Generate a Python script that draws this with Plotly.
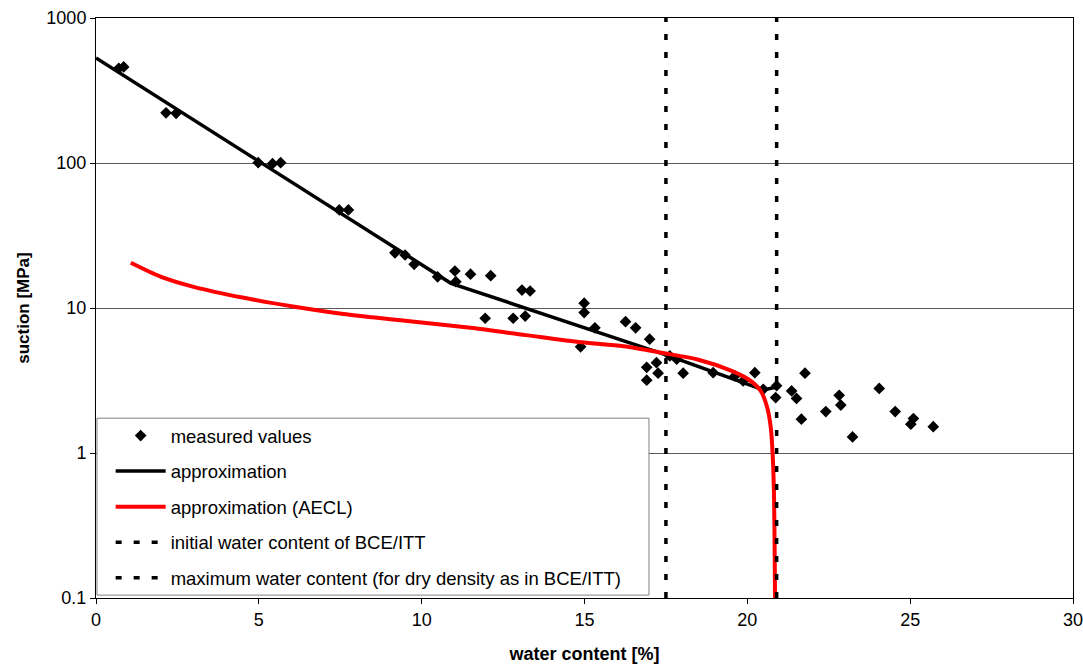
import plotly.graph_objects as go

# measured suction vs. water content
measured_w = [0.7, 0.85, 2.15, 2.46, 4.98, 5.42, 5.67, 7.47, 7.75, 9.18, 9.49, 9.77,
              10.49, 11.02, 11.05, 11.5, 12.12, 11.95, 12.81, 13.08, 13.33, 13.18,
              14.99, 14.99, 15.32, 14.88, 16.26, 16.57, 17.0, 16.91, 17.21, 17.26,
              16.91, 17.62, 17.83, 18.03, 18.95, 19.62, 19.87, 20.23, 20.49, 20.9,
              20.87, 21.36, 21.51, 21.66, 21.77, 22.41, 22.82, 22.87, 23.23, 24.05,
              24.54, 25.1, 25.02, 25.71]
measured_s = [450, 460, 222, 220, 100.5, 99, 100.5, 47.5, 47.5, 24, 23.2, 20,
              16.4, 18, 15.2, 17.1, 16.7, 8.5, 8.5, 13.3, 13.1, 8.8,
              10.8, 9.3, 7.3, 5.4, 8.05, 7.3, 6.1, 3.9, 4.2, 3.55,
              3.18, 4.67, 4.43, 3.55, 3.58, 3.4, 3.14, 3.58, 2.75, 2.91,
              2.41, 2.68, 2.38, 1.71, 3.55, 1.93, 2.5, 2.14, 1.29, 2.79,
              1.93, 1.73, 1.58, 1.52]

# piecewise approximation
approx_w = [0.0, 10.9, 17.5, 20.5, 20.9]
approx_s = [530, 14.8, 4.75, 2.72, 2.85]

# AECL approximation
aecl_w = [1.07, 2.0, 3.0, 4.5, 6.1, 7.6, 9.2, 11.5, 13.2, 14.9, 16.2, 17.4,
          18.5, 19.5, 20.05, 20.4, 20.6, 20.72, 20.78, 20.82, 20.84, 20.85]
aecl_s = [20.5, 16.4, 14.0, 11.8, 10.2, 9.1, 8.3, 7.3, 6.5, 5.8, 5.45, 4.9,
          4.4, 3.7, 3.2, 2.7, 2.1, 1.5, 0.95, 0.5, 0.2, 0.1]

w_initial = 17.5
w_max = 20.9
s_range = [0.1, 1000]

y_ticks = [0.1, 1, 10, 100, 1000]
y_ticktext = ["0.1", "1", "10", "100", "1000"]
x_ticks = [0, 5, 10, 15, 20, 25, 30]

FONT = "Liberation Sans, Arial, sans-serif"
DASH = "6px,12px"

fig = go.Figure()

fig.add_trace(go.Scatter(
    x=measured_w, y=measured_s, mode="markers", name="measured values",
    marker=dict(symbol="diamond", size=9, color="black"),
    legendgroup="a"))
fig.add_trace(go.Scatter(
    x=approx_w, y=approx_s, mode="lines", name="approximation",
    line=dict(color="black", width=3.5), legendgroup="b"))
fig.add_trace(go.Scatter(
    x=aecl_w, y=aecl_s, mode="lines", name="approximation (AECL)",
    line=dict(color="#ff0000", width=4, shape="spline", smoothing=0.8),
    legendgroup="c"))
fig.add_trace(go.Scatter(
    x=[w_initial, w_initial], y=s_range, mode="lines",
    name="initial water content of BCE/ITT",
    line=dict(color="black", width=3.5, dash=DASH), legendgroup="d"))
fig.add_trace(go.Scatter(
    x=[w_max, w_max], y=s_range, mode="lines",
    name="maximum water content (for dry density as in BCE/ITT)",
    line=dict(color="black", width=3.5, dash=DASH), legendgroup="e"))

# legend frame
fig.add_shape(type="rect", xref="paper", yref="paper",
              x0=0.001, x1=0.566, y0=0.005, y1=0.310,
              line=dict(color="#808080", width=1), fillcolor="white",
              layer="above")

fig.update_layout(
    width=1083, height=668,
    margin=dict(l=96, r=10, t=18, b=70),
    paper_bgcolor="white", plot_bgcolor="white",
    font=dict(family=FONT, size=18.5, color="black"),
    showlegend=True,
    legend=dict(
        x=0.015, y=0.312, xanchor="left", yanchor="top",
        bgcolor="rgba(0,0,0,0)", borderwidth=0,
        itemwidth=50, tracegroupgap=8.5, traceorder="grouped",
        font=dict(family=FONT, size=18.5, color="black")),
    xaxis=dict(
        range=[0, 30], tickvals=x_ticks, showgrid=False, zeroline=False,
        showline=True, linecolor="black", linewidth=1, mirror=True,
        ticks="outside", ticklen=5, tickcolor="black", automargin=False,
        ticklabelstandoff=0, ticklabeloverflow="allow",
        tickfont=dict(size=18),
        title=dict(text="<b>water content [%]</b>", standoff=18,
                   font=dict(size=18))),
    yaxis=dict(
        type="log", range=[-1, 3], tickvals=y_ticks, ticktext=y_ticktext,
        showgrid=True, gridcolor="#5a5a5a", gridwidth=1, zeroline=False,
        showline=True, linecolor="black", linewidth=1, mirror=True,
        ticks="outside", ticklen=5, tickcolor="black", automargin=False,
        ticklabeloverflow="allow", tickfont=dict(size=18),
        title=dict(text="<b>suction [MPa]</b>", standoff=12,
                   font=dict(size=17))),
)

fig.write_html("out.html")
